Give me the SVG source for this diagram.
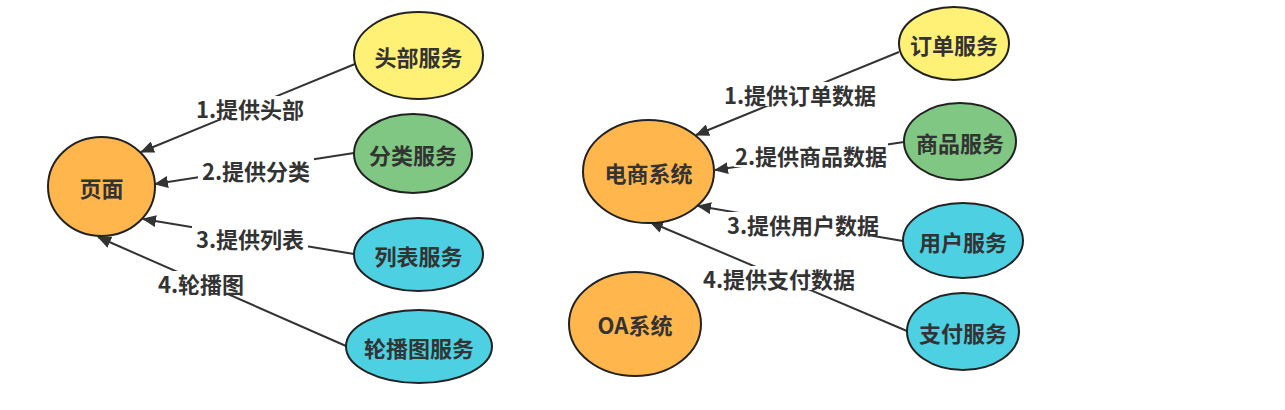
<svg xmlns="http://www.w3.org/2000/svg" width="1285" height="410" viewBox="0 0 1285 410">
<style>
.n{stroke:#222;stroke-width:2}
.y{fill:#FFF176}.g{fill:#81C784}.c{fill:#4DD0E1}.o{fill:#FFB74D}
.t{font-family:"Noto Sans CJK SC","Microsoft YaHei",sans-serif;font-weight:bold;font-size:22px;fill:#333;text-anchor:middle;dominant-baseline:central}
.e{stroke:#333;stroke-width:2;fill:none;marker-end:url(#arr)}
.lb{fill:#fff}
</style>
<defs>
<marker id="arr" markerWidth="14" markerHeight="12" refX="13" refY="6" orient="auto" markerUnits="userSpaceOnUse">
<path d="M0,0 L14,6 L0,12 Z" fill="#333"/>
</marker>
</defs>
<rect width="1285" height="410" fill="#fff"/>
<g id="connectors">
<line class="e" x1="355" y1="64" x2="141" y2="152"/>
<line class="e" x1="354" y1="153" x2="155" y2="184"/>
<line class="e" x1="354" y1="254" x2="143" y2="219"/>
<line class="e" x1="346" y1="346" x2="98" y2="237"/>
<line class="e" x1="899" y1="52" x2="696" y2="135"/>
<line class="e" x1="904" y1="142" x2="715" y2="170"/>
<line class="e" x1="903" y1="241" x2="698" y2="206"/>
<line class="e" x1="907" y1="331" x2="650" y2="222"/>
<rect class="lb" x="192" y="96" width="116" height="24"/>
<text class="t" x="250" y="108">1.提供头部</text>
<rect class="lb" x="198" y="158" width="116" height="24"/>
<text class="t" x="256" y="170">2.提供分类</text>
<rect class="lb" x="192" y="226" width="116" height="24"/>
<text class="t" x="250" y="238">3.提供列表</text>
<rect class="lb" x="155" y="271" width="92" height="24"/>
<text class="t" x="201" y="283">4.轮播图</text>
<rect class="lb" x="724" y="82" width="153" height="24"/>
<text class="t" x="800" y="94">1.提供订单数据</text>
<rect class="lb" x="734" y="143" width="154" height="24"/>
<text class="t" x="811" y="155">2.提供商品数据</text>
<rect class="lb" x="726" y="212" width="154" height="24"/>
<text class="t" x="803" y="224">3.提供用户数据</text>
<rect class="lb" x="702" y="266" width="154" height="24"/>
<text class="t" x="779" y="278">4.提供支付数据</text>
</g>
<g id="page"><ellipse class="n o" cx="101.5" cy="186.5" rx="53.5" ry="49.5"/><text class="t" x="101.5" y="186.5">页面</text></g>
<g id="header"><ellipse class="n y" cx="418.5" cy="55.5" rx="64.5" ry="43.5"/><text class="t" x="418.5" y="55.5">头部服务</text></g>
<g id="category"><ellipse class="n g" cx="413" cy="153.5" rx="59" ry="39.5"/><text class="t" x="413" y="153.5">分类服务</text></g>
<g id="list"><ellipse class="n c" cx="418.5" cy="254.5" rx="64.5" ry="36.5"/><text class="t" x="418.5" y="254.5">列表服务</text></g>
<g id="carousel"><ellipse class="n c" cx="419" cy="346.5" rx="73" ry="36.5"/><text class="t" x="419" y="346.5">轮播图服务</text></g>
<g id="ecommerce"><ellipse class="n o" cx="648.5" cy="171.5" rx="65.5" ry="51.5"/><text class="t" x="648.5" y="171.5">电商系统</text></g>
<g id="oa"><ellipse class="n o" cx="635" cy="324" rx="66" ry="52"/><text class="t" x="635" y="324">OA系统</text></g>
<g id="order"><ellipse class="n y" cx="954" cy="43.5" rx="55" ry="36.5"/><text class="t" x="954" y="43.5">订单服务</text></g>
<g id="goods"><ellipse class="n g" cx="960" cy="141.5" rx="56" ry="38.5"/><text class="t" x="960" y="141.5">商品服务</text></g>
<g id="user"><ellipse class="n c" cx="963" cy="240.5" rx="60" ry="37.5"/><text class="t" x="963" y="240.5">用户服务</text></g>
<g id="pay"><ellipse class="n c" cx="963" cy="331.5" rx="56" ry="38.5"/><text class="t" x="963" y="331.5">支付服务</text></g>
</svg>
